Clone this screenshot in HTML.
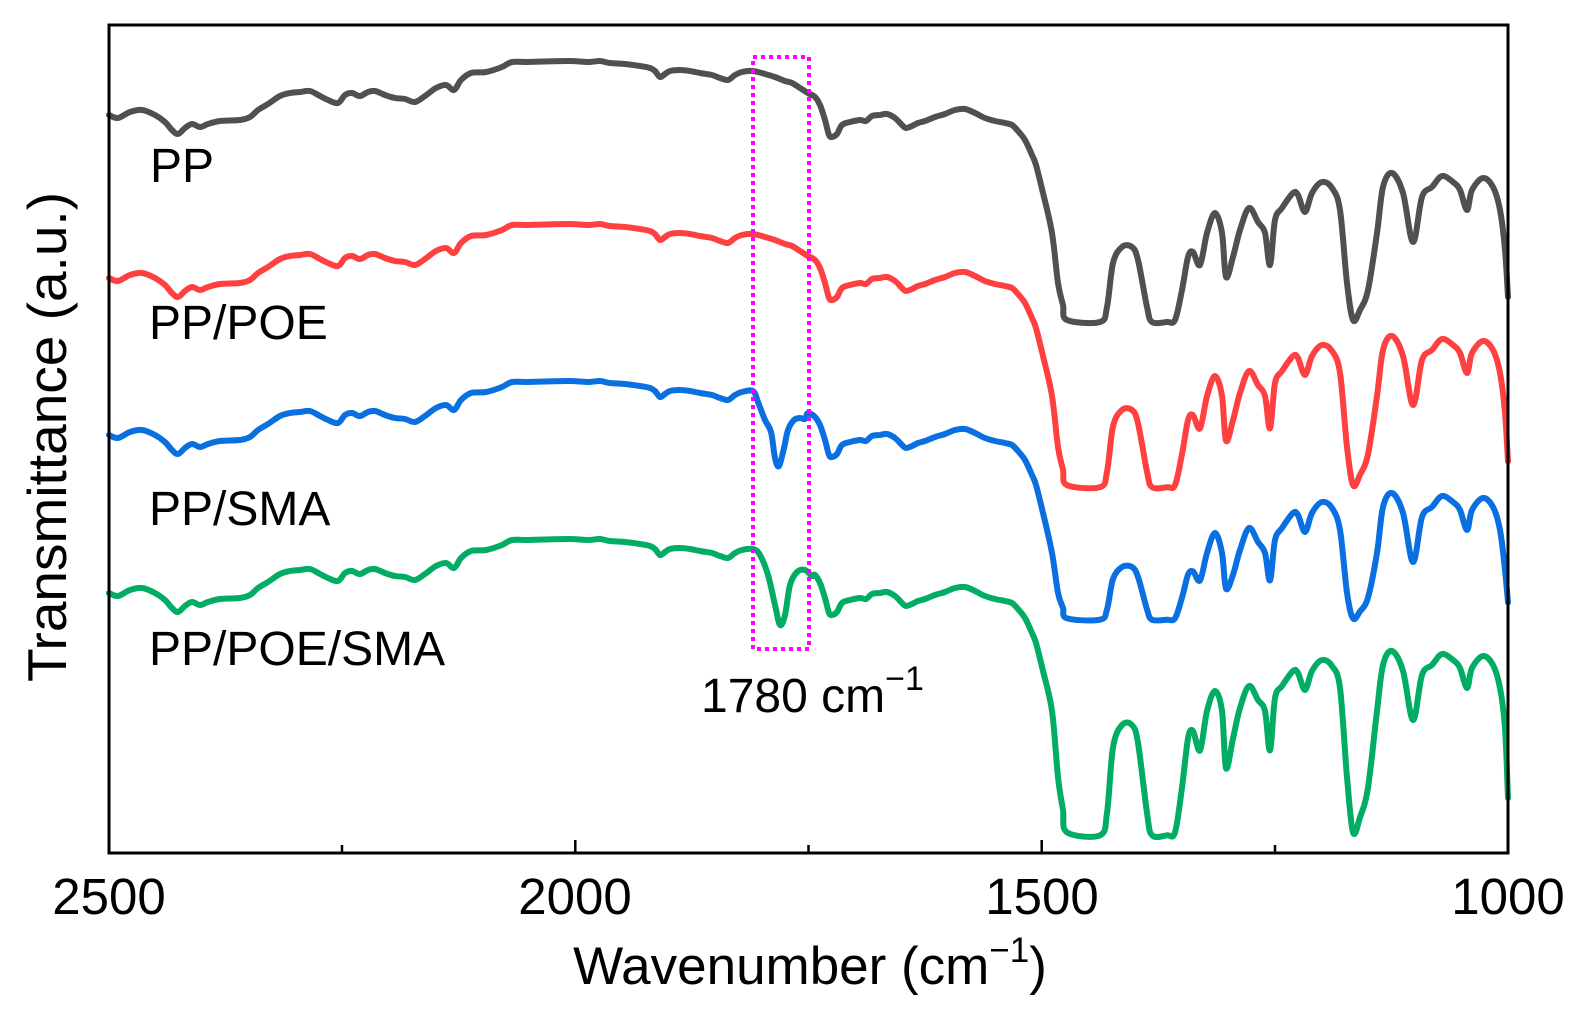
<!DOCTYPE html>
<html><head><meta charset="utf-8"><style>
html,body{margin:0;padding:0;background:#fff;}
svg{display:block;font-family:"Liberation Sans",Arial,sans-serif;}
</style></head><body>
<svg id="s" width="1591" height="1027" viewBox="0 0 1591 1027" xmlns="http://www.w3.org/2000/svg">
<rect x="0" y="0" width="1591" height="1027" fill="#fff"/>
<g id="curves" fill="none" stroke-width="6" stroke-linejoin="round" stroke-linecap="round"></g>
<rect x="753" y="57" width="56" height="592" fill="none" stroke="#ff00ff" stroke-width="4" stroke-dasharray="4,4"/>
<rect x="109" y="25" width="1399" height="828" fill="none" stroke="#000" stroke-width="3"/>
<g stroke="#000" stroke-width="2.5">
<line x1="575.3" y1="853" x2="575.3" y2="840"/>
<line x1="1041.7" y1="853" x2="1041.7" y2="840"/>
<line x1="342" y1="853" x2="342" y2="845"/>
<line x1="808.5" y1="853" x2="808.5" y2="845"/>
<line x1="1275" y1="853" x2="1275" y2="845"/>
</g>
<g font-size="51" text-anchor="middle" fill="#000">
<text x="109" y="914">2500</text>
<text x="575" y="914">2000</text>
<text x="1042" y="914">1500</text>
<text x="1508" y="914">1000</text>
<text x="810" y="984" font-size="53">Wavenumber (cm<tspan dy="-22" font-size="35">−1</tspan><tspan dy="22">)</tspan></text>
<text transform="translate(66,437) rotate(-90)" font-size="55">Transmittance (a.u.)</text>
</g>
<g font-size="48" fill="#000">
<text x="150" y="182">PP</text>
<text x="149" y="339">PP/POE</text>
<text x="149" y="525">PP/SMA</text>
<text x="149" y="665">PP/POE/SMA</text>
<text x="701" y="712">1780 cm<tspan dy="-22" font-size="34">−1</tspan></text>
</g>
</svg>
<script>
var pp=[[109,115],[118,118],[130,112],[142,110],[155,115],[165,122],[172,130],[178,134],[185,128],[192,124],[200,127],[208,124],[220,121],[240,120],[250,117],[258,110],[268,104],[280,96],[290,93],[300,92],[310,91],[320,96],[328,100],[338,103],[345,95],[352,93],[360,96],[368,92],[375,91],[385,95],[395,98],[405,99],[415,102],[425,96],[436,88],[446,85],[454,90],[461,80],[471,73],[486,72],[502,67],[512,62],[527,62],[568,61],[588,62],[600,61],[610,63],[625,64],[640,66],[650,68],[655,71],[660,77],[665,74],[670,71],[680,70],[690,71],[700,73],[712,75],[720,78],[728,80],[735,75],[742,72],[753,71],[765,74],[775,77],[785,81],[792,83],[800,88],[808,93],[815,97],[820,105],[825,120],[829,135],[832,137],[837,134],[842,125],[850,122],[860,120],[866,121],[872,116],[880,115],[887,114],[895,118],[902,125],[906,128],[912,126],[918,123],[925,121],[935,117],[945,114],[955,110],[965,109],[975,113],[985,118],[995,121],[1005,123],[1012,125],[1018,131],[1025,140],[1032,155],[1036,165],[1043,193],[1052,233],[1058,283],[1063,305],[1067,320],[1100,322],[1107,307],[1113,263],[1122,247],[1132,247],[1138,260],[1147,307],[1152,322],[1167,322],[1175,320],[1182,290],[1188,257],[1193,252],[1200,265],[1207,233],[1215,213],[1222,233],[1226,277],[1233,257],[1240,230],[1249,208],[1258,222],[1265,233],[1270,265],[1275,220],[1282,208],[1293,193],[1298,195],[1305,212],[1312,193],[1322,182],[1332,188],[1340,210],[1347,283],[1353,320],[1360,310],[1368,290],[1377,233],[1383,187],[1392,173],[1403,193],[1413,242],[1422,197],[1432,187],[1442,176],[1453,182],[1460,190],[1467,210],[1472,190],[1483,178],[1493,187],[1500,210],[1505,250],[1508,297]];
function derive(off,k,ov,x0,x1){
  var out=[];
  pp.forEach(function(p){
    if(ov && p[0]>x0 && p[0]<x1) return;
    var y=p[1]; if(y>250) y=250+(y-250)*k;
    out.push([p[0],y+off]);
  });
  if(ov){ out=out.concat(ov); out.sort(function(a,b){return a[0]-b[0];}); }
  return out;
}
var blueOv=[[758,402],[765,420],[771,432],[775,458],[779,466],[784,448],[788,430],[794,420],[800,418],[805,419]];
var greenOv=[[760,555],[768,575],[775,605],[780,625],[785,615],[790,585],[797,572],[805,570],[812,576]];
var sets=[
 [derive(0,1),"#505050"],
 [derive(163,1.03),"#ff4040"],
 [derive(320,0.69,blueOv,755,808),"#0a6fe0"],
 [derive(478,1.49,greenOv,755,814),"#00ad63"]
];
function smooth(P){
  var d="M"+P[0][0]+","+P[0][1];
  for(var i=0;i<P.length-1;i++){
    var p0=P[i-1]||P[i],p1=P[i],p2=P[i+1],p3=P[i+2]||p2;
    var c1x=p1[0]+(p2[0]-p0[0])/6,c1y=p1[1]+(p2[1]-p0[1])/6;
    var c2x=p2[0]-(p3[0]-p1[0])/6,c2y=p2[1]-(p3[1]-p1[1])/6;
    d+=" C"+c1x.toFixed(1)+","+c1y.toFixed(1)+" "+c2x.toFixed(1)+","+c2y.toFixed(1)+" "+p2[0].toFixed(1)+","+p2[1].toFixed(1);
  }
  return d;
}
var g=document.getElementById("curves");
sets.forEach(function(s){
  var el=document.createElementNS("http://www.w3.org/2000/svg","path");
  el.setAttribute("d",smooth(s[0]));el.setAttribute("stroke",s[1]);
  g.appendChild(el);
});
</script>
</body></html>
